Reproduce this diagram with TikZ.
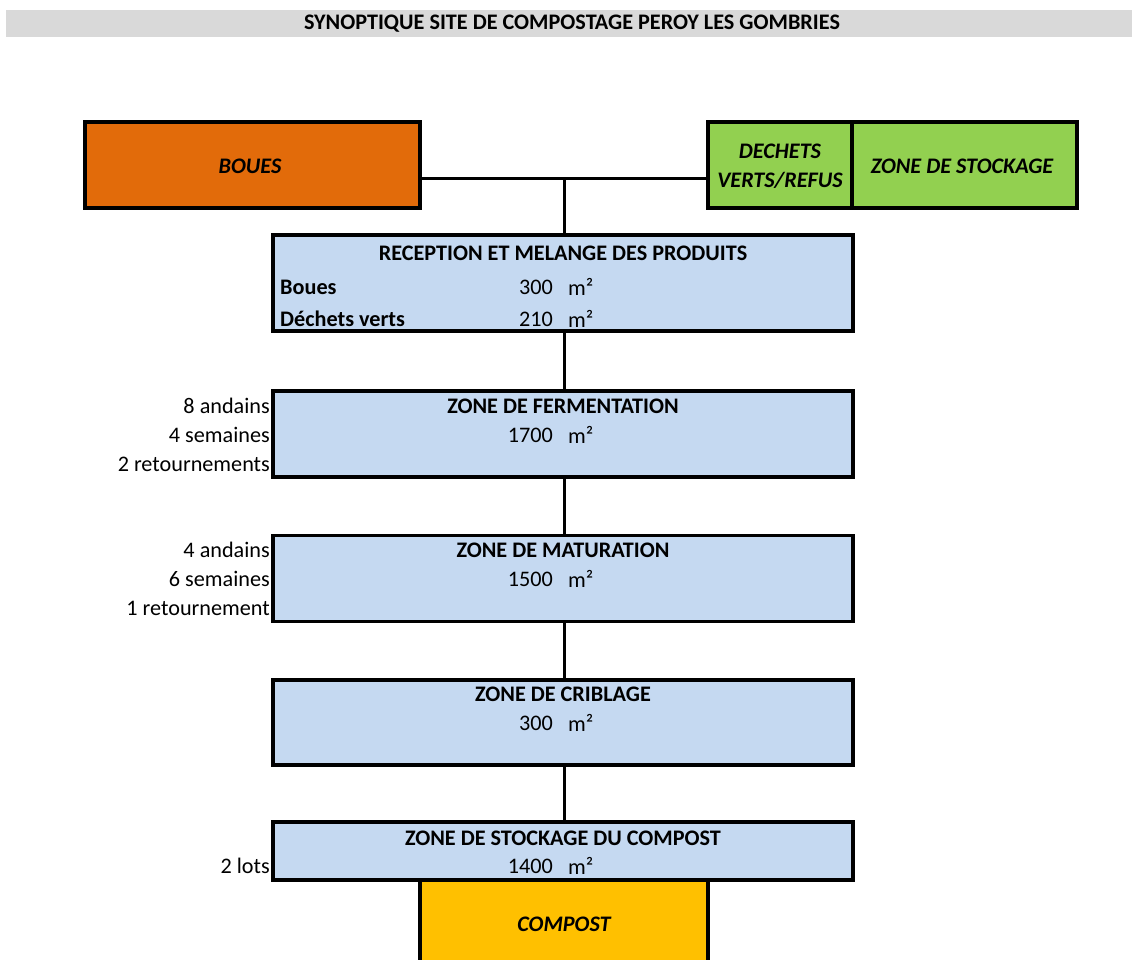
\documentclass[tikz,border=0pt]{standalone}
\usepackage{fontspec}
\setmainfont{Carlito}
\definecolor{orangeB}{HTML}{E26B0A}
\definecolor{greenB}{HTML}{92D050}
\definecolor{blueB}{HTML}{C5D9F1}
\definecolor{yellowB}{HTML}{FFC000}
\definecolor{greyB}{HTML}{D9D9D9}
\newcommand{\fsz}{\fontsize{22.2}{27}\selectfont}
\begin{document}
\begin{tikzpicture}[x=1pt,y=-1pt,
  every node/.style={font=\fsz, inner sep=0pt},
  box/.style={draw=black, line width=3.2pt, rectangle},
  bt/.style={font=\fsz\bfseries},
  it/.style={font=\fsz\bfseries\itshape, align=center},
  side/.style={anchor=east},
  num/.style={anchor=east},
  unit/.style={anchor=west},
  link/.style={line width=3pt}]
\useasboundingbox (0,0) rectangle (1132,960);
% title
\node[fill=greyB, minimum width=1126pt, minimum height=27pt] (title) at (569,23.5) {};
\node[bt] (titletxt) at (572,24) {SYNOPTIQUE SITE DE COMPOSTAGE PEROY LES GOMBRIES};
% top boxes
\node[box, fill=orangeB, minimum width=335pt, minimum height=86pt] (boues) at (252.5,165) {};
\node[it] (bouestxt) at (250,166) {BOUES};
\node[box, fill=greenB, minimum width=144pt, minimum height=86pt] (dv) at (780,165) {};
\node[box, fill=greenB, minimum width=225pt, minimum height=86pt] (zs) at (964.5,165) {};
\node[it] (dvtxt) at (780,166) {DECHETS\\[2pt]VERTS/REFUS};
\node[it] (zstxt) at (962,166) {ZONE DE STOCKAGE};
\coordinate (j) at (564,179);
% reception
\node[box, fill=blueB, minimum width=580pt, minimum height=96pt] (recep) at (563,283) {};
\node[bt] (recept) at (563,253) {RECEPTION ET MELANGE DES PRODUITS};
\node[bt, anchor=west] (rb) at (280,287) {Boues};
\node[num] (rbn) at (553,287) {300};
\node[unit] (rbu) at (568,287) {m²};
\node[bt, anchor=west] (rd) at (280,319) {Déchets verts};
\node[num] (rdn) at (553,319) {210};
\node[unit] (rdu) at (568,319) {m²};
% fermentation
\node[box, fill=blueB, minimum width=580pt, minimum height=86pt] (ferm) at (563,434) {};
\node[bt] (fermt) at (563,406) {ZONE DE FERMENTATION};
\node[num] (fermn) at (553,435) {1700};
\node[unit] (fermu) at (568,435) {m²};
\node[side] (f1) at (270,406) {8 andains};
\node[side] (f2) at (270,435) {4 semaines};
\node[side] (f3) at (270,464) {2 retournements};
% maturation
\node[box, fill=blueB, minimum width=580pt, minimum height=86pt] (mat) at (563,578.5) {};
\node[bt] (matt) at (563,550) {ZONE DE MATURATION};
\node[num] (matn) at (553,579) {1500};
\node[unit] (matu) at (568,579) {m²};
\node[side] (m1) at (270,550) {4 andains};
\node[side] (m2) at (270,579) {6 semaines};
\node[side] (m3) at (270,608) {1 retournement};
% criblage
\node[box, fill=blueB, minimum width=580pt, minimum height=85pt] (crib) at (563,722.5) {};
\node[bt] (cribt) at (563,694) {ZONE DE CRIBLAGE};
\node[num] (cribn) at (553,723) {300};
\node[unit] (cribu) at (568,723) {m²};
% stockage
\node[box, fill=blueB, minimum width=580pt, minimum height=58pt] (stock) at (563,851) {};
\node[bt] (stockt) at (563,838) {ZONE DE STOCKAGE DU COMPOST};
\node[num] (stockn) at (553,866) {1400};
\node[unit] (stocku) at (568,866) {m²};
\node[side] (s1) at (270,866) {2 lots};
% compost
\node[box, fill=yellowB, minimum width=288pt, minimum height=100pt] (comp) at (564,930) {};
\node[it] (comptxt) at (564,924) {COMPOST};
% connectors
\draw[link] (boues.east |- j) -- (dv.west |- j);
\draw[link] (j) -- (recep.north -| j);
\draw[link] (recep.south -| j) -- (ferm.north -| j);
\draw[link] (ferm.south -| j) -- (mat.north -| j);
\draw[link] (mat.south -| j) -- (crib.north -| j);
\draw[link] (crib.south -| j) -- (stock.north -| j);
\end{tikzpicture}
\end{document}
